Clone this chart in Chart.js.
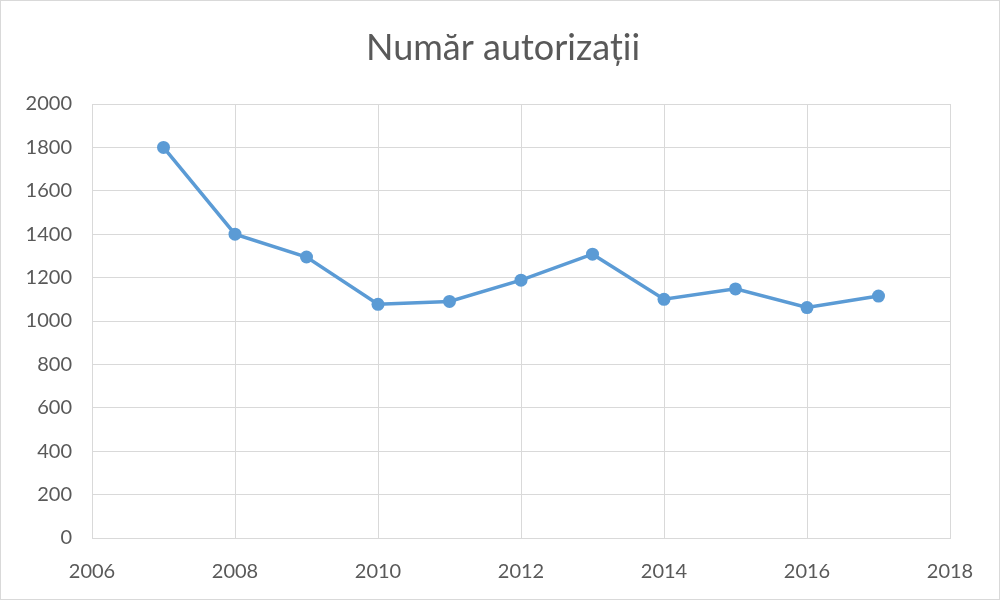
<!DOCTYPE html>
<html>
<head>
<meta charset="utf-8">
<script src="https://cdn.jsdelivr.net/npm/chart.js@4"></script>
<style>
    html, body { margin: 0; padding: 0; background: #fff; }
    #wrap { position: relative; width: 1000px; height: 600px; }
</style>
</head>
<body>
<div id="wrap"><canvas id="grafic"></canvas></div>
<script>
// date
const ani = [2007, 2008, 2009, 2010, 2011, 2012, 2013, 2014, 2015, 2016, 2017];
const autorizatii = [1800, 1400, 1295, 1077, 1090, 1188, 1308, 1100, 1148, 1062, 1115];
const xTicks = [2006, 2008, 2010, 2012, 2014, 2016, 2018];
const yTicks = [0, 200, 400, 600, 800, 1000, 1200, 1400, 1600, 1800, 2000];
const titlu = "Număr autorizații";

// fundal, chenar gri si titlul centrat pe toata latimea
const framePlugin = {
    id: "frame",
    beforeDraw: (chart) => {
        const { ctx, width, height } = chart;
        ctx.save();
        ctx.fillStyle = "#fff";
        ctx.fillRect(0, 0, width, height);
        ctx.restore();
    },
    afterDraw: (chart) => {
        const { ctx, width, height } = chart;
        ctx.save();
        ctx.strokeStyle = "#d9d9d9";
        ctx.lineWidth = 1;
        ctx.strokeRect(0.5, 0.5, width - 1, height - 1);

        ctx.font = "36px Lato";
        ctx.fillStyle = "#595959";
        ctx.textAlign = "center";
        ctx.textBaseline = "middle";
        ctx.fillText(titlu, width / 2 + 3, 48);
        ctx.restore();
    },
};

const tickFont = { family: "Lato", size: 20 };

const ctx = document.getElementById("grafic").getContext("2d");
new Chart(ctx, {
    type: "line",
    plugins: [framePlugin],
    data: {
        datasets: [
            {
                data: ani.map((an, i) => ({ x: an, y: autorizatii[i] })),
                borderColor: "#5B9BD5",
                backgroundColor: "#5B9BD5",
                borderWidth: 3.5,
                pointRadius: 6.5,
                pointHoverRadius: 6.5,
                pointBorderWidth: 0,
                tension: 0,
            },
        ],
    },
    options: {
        responsive: true,
        maintainAspectRatio: false,
        animation: false,
        layout: { padding: { top: 104, right: 50, bottom: 0, left: 0 } },
        plugins: {
            legend: { display: false },
            tooltip: { enabled: false },
            title: { display: false },
        },
        scales: {
            x: {
                type: "linear",
                min: 2006,
                max: 2018,
                afterFit: (scale) => { scale.height = 62; },
                afterBuildTicks: (scale) => {
                    scale.ticks = xTicks.map((v) => ({ value: v }));
                },
                ticks: {
                    color: "#595959",
                    font: tickFont,
                    padding: 22,
                    maxRotation: 0,
                    callback: (v) => String(v),
                },
                grid: { color: "#d9d9d9", lineWidth: 1, drawTicks: false },
                border: { color: "#d9d9d9", width: 1 },
            },
            y: {
                min: 0,
                max: 2000,
                afterFit: (scale) => { scale.width = 92; },
                afterBuildTicks: (scale) => {
                    scale.ticks = yTicks.map((v) => ({ value: v }));
                },
                ticks: {
                    color: "#595959",
                    font: tickFont,
                    padding: 20,
                    callback: (v) => String(v),
                },
                grid: { color: "#d9d9d9", lineWidth: 1, drawTicks: false },
                border: { display: false },
            },
        },
    },
});
</script>
</body>
</html>
